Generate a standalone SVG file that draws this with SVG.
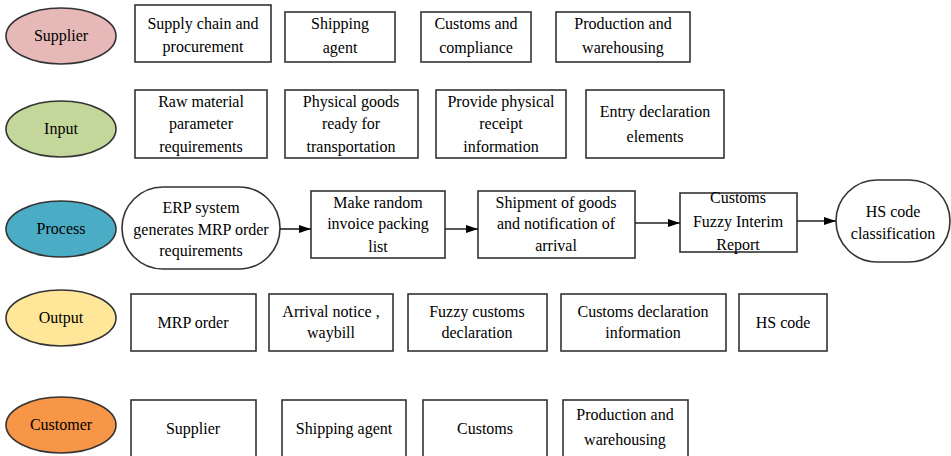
<svg xmlns="http://www.w3.org/2000/svg" width="951" height="456" viewBox="0 0 951 456">
<style>
text{font-family:'Liberation Serif','DejaVu Serif','Times New Roman',serif;font-size:16px;fill:#000;text-anchor:middle}
.b{fill:#fff;stroke:#333;stroke-width:1.6}
.e{stroke:#333;stroke-width:1.6}
.c{stroke:#222;stroke-width:1.6;fill:none;marker-end:url(#ah)}
</style>
<defs>
<marker id="ah" viewBox="0 0 12 8" refX="12" refY="4" markerWidth="12" markerHeight="8" markerUnits="userSpaceOnUse" orient="auto">
<path d="M0,0 L12,4 L0,8 z" fill="#000"/>
</marker>
</defs>
<rect width="951" height="456" fill="#fff"/>
<g font-family="Liberation Serif, DejaVu Serif, serif">
<g id="lab-supplier"><ellipse class="e" cx="61" cy="36" rx="55" ry="28" fill="#E6B8B7"/><text x="61" y="41">Supplier</text></g>
<g id="lab-input"><ellipse class="e" cx="61" cy="129" rx="55" ry="28" fill="#C4D79B"/><text x="61" y="134">Input</text></g>
<g id="lab-process"><ellipse class="e" cx="61" cy="229" rx="55" ry="28" fill="#4BACC6"/><text x="61" y="234">Process</text></g>
<g id="lab-output"><ellipse class="e" cx="61" cy="318" rx="55" ry="28" fill="#FFE699"/><text x="61" y="323">Output</text></g>
<g id="lab-customer"><ellipse class="e" cx="61" cy="425" rx="55" ry="28" fill="#F79646"/><text x="61" y="430">Customer</text></g>

<g id="s1"><rect class="b" x="135" y="5" width="136" height="57"/><text x="203" y="29">Supply chain and</text><text x="203" y="52">procurement</text></g>
<g id="s2"><rect class="b" x="285" y="12" width="110" height="50"/><text x="340" y="29">Shipping</text><text x="340" y="53">agent</text></g>
<g id="s3"><rect class="b" x="421" y="12" width="110" height="50"/><text x="476" y="29">Customs and</text><text x="476" y="53">compliance</text></g>
<g id="s4"><rect class="b" x="556" y="12" width="134" height="50"/><text x="623" y="29">Production and</text><text x="623" y="53">warehousing</text></g>

<g id="i1"><rect class="b" x="135" y="90" width="132" height="68"/><text x="201" y="107">Raw material</text><text x="201" y="129">parameter</text><text x="201" y="152">requirements</text></g>
<g id="i2"><rect class="b" x="285" y="90" width="133" height="68"/><text x="351" y="107">Physical goods</text><text x="351" y="129">ready for</text><text x="351" y="152">transportation</text></g>
<g id="i3"><rect class="b" x="436" y="90" width="130" height="68"/><text x="501" y="107">Provide physical</text><text x="501" y="129">receipt</text><text x="501" y="152">information</text></g>
<g id="i4"><rect class="b" x="586" y="90" width="138" height="68"/><text x="655" y="117">Entry declaration</text><text x="655" y="142">elements</text></g>

<g id="p1"><rect class="b" x="122" y="187" width="158" height="82" rx="41" ry="41"/><text x="201" y="213">ERP system</text><text x="201" y="235">generates MRP order</text><text x="201" y="256">requirements</text></g>
<g id="p2"><rect class="b" x="311" y="191" width="134" height="67"/><text x="378" y="208">Make random</text><text x="378" y="229">invoice packing</text><text x="378" y="252">list</text></g>
<g id="p3"><rect class="b" x="478" y="191" width="157" height="67"/><text x="556" y="208">Shipment of goods</text><text x="556" y="229">and notification of</text><text x="556" y="251">arrival</text></g>
<g id="p4"><rect class="b" x="680" y="193" width="117" height="59"/><text x="738" y="203">Customs</text><text x="738" y="227">Fuzzy Interim</text><text x="738" y="250">Report</text></g>
<g id="p5"><rect class="b" x="836" y="180" width="114" height="82" rx="41" ry="41"/><text x="893" y="217">HS code</text><text x="893" y="239">classification</text></g>

<g id="o1"><rect class="b" x="131" y="294" width="125" height="57"/><text x="193" y="328">MRP order</text></g>
<g id="o2"><rect class="b" x="269" y="294" width="124" height="57"/><text x="331" y="317">Arrival notice ,</text><text x="331" y="338">waybill</text></g>
<g id="o3"><rect class="b" x="408" y="294" width="139" height="57"/><text x="477" y="317">Fuzzy customs</text><text x="477" y="338">declaration</text></g>
<g id="o4"><rect class="b" x="561" y="294" width="165" height="57"/><text x="643" y="317">Customs declaration</text><text x="643" y="338">information</text></g>
<g id="o5"><rect class="b" x="739" y="294" width="88" height="57"/><text x="783" y="328">HS code</text></g>

<g id="c1"><rect class="b" x="131" y="400" width="125" height="62"/><text x="193" y="434">Supplier</text></g>
<g id="c2"><rect class="b" x="282" y="400" width="124" height="62"/><text x="344" y="434">Shipping agent</text></g>
<g id="c3"><rect class="b" x="423" y="400" width="124" height="62"/><text x="485" y="434">Customs</text></g>
<g id="c4"><rect class="b" x="563" y="400" width="125" height="62"/><text x="625" y="420">Production and</text><text x="625" y="445">warehousing</text></g>
</g>
<g id="connectors">
<line class="c" x1="280" y1="229" x2="311" y2="229"/>
<line class="c" x1="445" y1="229" x2="478" y2="229"/>
<line class="c" x1="635" y1="223" x2="680" y2="223"/>
<line class="c" x1="797" y1="221" x2="836" y2="221"/>
</g>
</svg>
